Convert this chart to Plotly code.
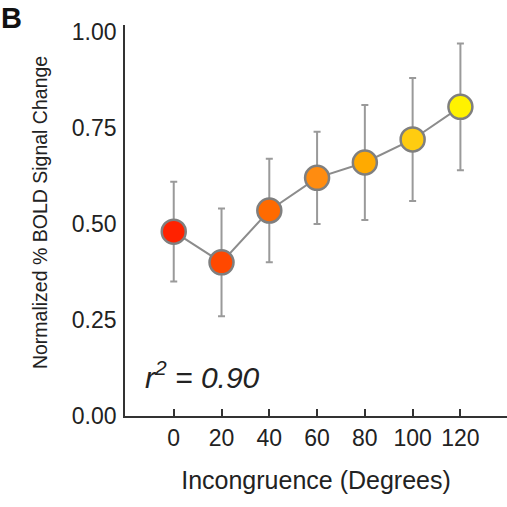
import plotly.graph_objects as go

# Incongruence levels (degrees) and normalized % BOLD signal change
incongruence = [0, 20, 40, 60, 80, 100, 120]
bold_change = [0.48, 0.40, 0.535, 0.62, 0.66, 0.72, 0.805]
bold_error = [0.13, 0.14, 0.135, 0.12, 0.15, 0.16, 0.165]
point_colors = ["#FF2200", "#FF4800", "#FF6A00", "#FF8C10", "#FFAA00", "#FFCC10", "#FFF200"]

x_ticks = [0, 20, 40, 60, 80, 100, 120]
y_ticks = [0.0, 0.25, 0.50, 0.75, 1.00]
y_tick_text = ["0.00", "0.25", "0.50", "0.75", "1.00"]
y_title = "Normalized % BOLD Signal Change"
r2_text = "<i>r<sup>2</sup> = 0.90</i>"

font_family = "Liberation Sans, Arial, Helvetica, sans-serif"

fig = go.Figure()

fig.add_trace(go.Scatter(
    x=incongruence,
    y=bold_change,
    mode="lines+markers",
    line=dict(color="#8c8c8c", width=2),
    marker=dict(size=24, color=point_colors, line=dict(color="#7f7f7f", width=2.5)),
    error_y=dict(type="data", array=bold_error, visible=True,
                 color="#9a9a9a", thickness=2, width=3.5),
    showlegend=False,
    hoverinfo="skip",
))

fig.update_layout(
    width=507,
    height=507,
    margin=dict(l=125, r=0, t=25, b=91),
    paper_bgcolor="white",
    plot_bgcolor="white",
    font=dict(family=font_family, color="#222222"),
    xaxis=dict(
        range=[-20.4, 139.5],
        tickmode="array",
        tickvals=x_ticks,
        ticks="inside",
        ticklen=7,
        tickwidth=1.5,
        tickcolor="#333333",
        tickfont=dict(size=23, color="#222222"),
        showline=True,
        linecolor="#333333",
        linewidth=1.8,
        showgrid=False,
        zeroline=False,
        title=dict(text="Incongruence (Degrees)", font=dict(size=25, color="#222222"), standoff=22),
    ),
    yaxis=dict(
        range=[0, 1.018],
        tickmode="array",
        tickvals=y_ticks,
        ticktext=y_tick_text,
        ticks="",
        ticklabelstandoff=2,
        tickfont=dict(size=23, color="#222222"),
        showline=True,
        linecolor="#333333",
        linewidth=1.8,
        showgrid=False,
        zeroline=False,
    ),
    annotations=[
        dict(text=y_title, xref="paper", yref="paper", x=-0.2225, y=0.519,
             xanchor="center", yanchor="middle", textangle=-90, showarrow=False,
             font=dict(size=19.5, color="#222222", family=font_family)),
        dict(text=r2_text, xref="paper", yref="paper", x=0.047, y=0.105,
             xanchor="left", yanchor="middle", showarrow=False,
             font=dict(size=30, color="#222222", family=font_family)),
        dict(text="<b>B</b>", xref="paper", yref="paper", x=-0.33, y=1.064,
             xanchor="left", yanchor="top", showarrow=False,
             font=dict(size=29, color="#111111", family=font_family)),
    ],
)

fig.write_html("out.html")
